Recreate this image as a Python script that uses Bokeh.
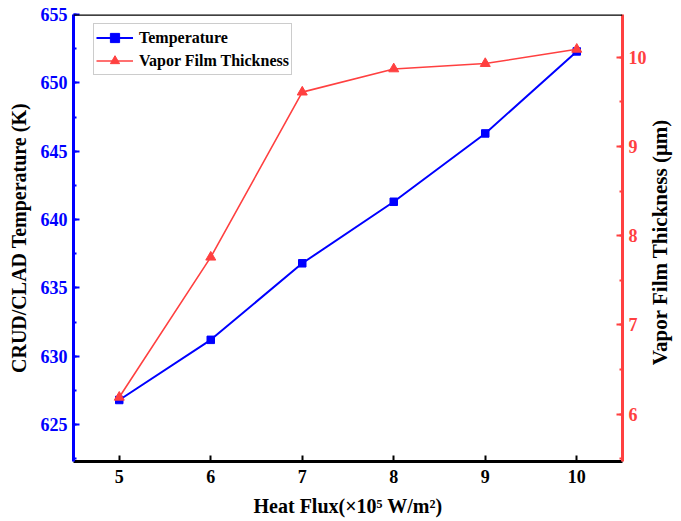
import math
from bokeh.plotting import figure
from bokeh.models import (LinearAxis, Range1d, FixedTicker, SingleIntervalTicker,
                          Legend, LegendItem, Span, Label)
from bokeh.embed import file_html
from bokeh.resources import INLINE

heat_flux = [5, 6, 7, 8, 9, 10]
temperature = [626.8, 631.2, 636.8, 641.3, 646.3, 652.3]
vapor_thickness = [6.19, 7.76, 9.61, 9.87, 9.93, 10.09]
x_ticks = [5, 6, 7, 8, 9, 10]

BLUE = "#0000ff"
RED = "#ff4040"
FONT = "Liberation Serif"

p = figure(width=681, height=521, output_backend="svg", toolbar_location=None,
           x_range=Range1d(4.5, 10.5), y_range=Range1d(622.3, 655),
           min_border_left=73, min_border_right=59, min_border_top=14, min_border_bottom=60)
p.extra_y_ranges = {"vap": Range1d(5.47, 10.48)}
p.grid.visible = False
p.outline_line_color = None
p.background_fill_color = "white"
p.border_fill_color = "white"

# top frame line
p.add_layout(Span(location=655, dimension="width", line_color="black", line_width=2.5))

# x axis
xa = p.xaxis[0]
xa.ticker = FixedTicker(ticks=x_ticks, minor_ticks=[])
xa.axis_label = "Heat Flux(×10⁵ W/m²)"
xa.axis_line_color = "black"
xa.axis_line_width = 3
xa.major_tick_in = 6
xa.major_tick_out = 0
xa.major_tick_line_width = 2
xa.minor_tick_line_color = None
xa.major_label_text_font = FONT
xa.major_label_text_font_style = "bold"
xa.major_label_text_font_size = "18px"
xa.major_label_text_color = "black"
xa.major_label_standoff = 8
xa.axis_label_text_font = FONT
xa.axis_label_text_font_style = "bold"
xa.axis_label_text_font_size = "20px"
xa.axis_label_text_color = "black"
xa.axis_label_standoff = 9

# left axis
ya = p.yaxis[0]
ya.ticker = SingleIntervalTicker(interval=5, num_minor_ticks=2)
ya.axis_label = "CRUD/CLAD Temperature (K)"
ya.axis_line_color = BLUE
ya.axis_line_width = 3
ya.major_tick_line_color = BLUE
ya.minor_tick_line_color = BLUE
ya.major_tick_line_width = 2
ya.minor_tick_line_width = 2
ya.major_tick_in = 6
ya.major_tick_out = 0
ya.minor_tick_in = 3
ya.minor_tick_out = 0
ya.major_label_text_font = FONT
ya.major_label_text_font_style = "bold"
ya.major_label_text_font_size = "18px"
ya.major_label_text_color = BLUE
ya.major_label_standoff = 6
ya.axis_label_text_font = FONT
ya.axis_label_text_font_style = "bold"
ya.axis_label_text_font_size = "20px"
ya.axis_label_text_color = "black"
ya.axis_label_standoff = 8

# right axis
ra = LinearAxis(y_range_name="vap",
                ticker=SingleIntervalTicker(interval=1, num_minor_ticks=2))
ra.axis_line_color = RED
ra.axis_line_width = 3
ra.major_tick_line_color = RED
ra.minor_tick_line_color = RED
ra.major_tick_line_width = 2
ra.minor_tick_line_width = 2
ra.major_tick_in = 6
ra.major_tick_out = 0
ra.minor_tick_in = 3
ra.minor_tick_out = 0
ra.major_label_text_font = FONT
ra.major_label_text_font_style = "bold"
ra.major_label_text_font_size = "18px"
ra.major_label_text_color = RED
ra.major_label_standoff = 6
p.add_layout(ra, "right")

# right axis title in a side panel (not clipped), reading bottom-to-top
p.add_layout(Label(x=10.905, y=7.93, y_range_name="vap", text="Vapor Film Thickness (μm)",
                   angle=math.pi / 2, text_align="center", text_baseline="middle",
                   text_font=FONT, text_font_style="bold", text_font_size="21px",
                   text_color="black"), "right")

# data
tl = p.line(heat_flux, temperature, line_color=BLUE, line_width=2)
tm = p.scatter(heat_flux, temperature, marker="square", size=7.5, fill_color=BLUE, line_color=BLUE)
vl = p.line(heat_flux, vapor_thickness, line_color=RED, line_width=1.6, y_range_name="vap")
vm = p.scatter(heat_flux, vapor_thickness, marker="triangle", size=10, fill_color=RED,
               line_color=RED, y_range_name="vap")

legend = Legend(items=[LegendItem(label="Temperature", renderers=[tl, tm]),
                       LegendItem(label="Vapor Film Thickness", renderers=[vl, vm])],
                location=(20, 386))
legend.label_text_font = FONT
legend.label_text_font_style = "bold"
legend.label_text_font_size = "16px"
legend.label_text_color = "black"
legend.glyph_width = 37
legend.glyph_height = 23
legend.label_height = 23
legend.spacing = 0
legend.padding = 2
legend.margin = 0
legend.label_standoff = 6
legend.border_line_color = "#999999"
legend.border_line_width = 1
legend.background_fill_alpha = 1
p.add_layout(legend, "center")

open("out.html", "w").write(file_html(p, INLINE))
